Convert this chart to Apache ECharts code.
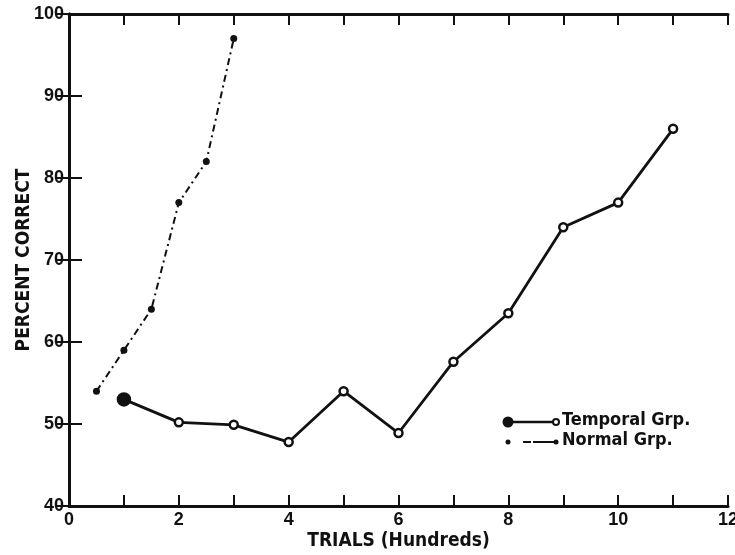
<!DOCTYPE html>
<html>
<head>
<meta charset="utf-8">
<script src="https://cdn.jsdelivr.net/npm/echarts@6/dist/echarts.min.js"></script>
<style>
  html, body { margin: 0; padding: 0; background: #fff; }
  #chart { width: 735px; height: 555px; }
</style>
</head>
<body>
<div id="chart"></div>
<script>
// Trials in hundreds, percent correct
const temporalTrials = [1, 2, 3, 4, 5, 6, 7, 8, 9, 10, 11];
const temporalPct = [53, 50.2, 49.9, 47.8, 54, 48.9, 57.6, 63.5, 74, 77, 86];

const normalTrials = [0.5, 1, 1.5, 2, 2.5, 3];
const normalPct = [54, 59, 64, 77, 82, 97];

const xTickLabels = [0, 2, 4, 6, 8, 10, 12];
const yTickLabels = [40, 50, 60, 70, 80, 90, 100];

const NUM_FONT = 'Liberation Sans';
const TITLE_FONT = 'DejaVu Sans Condensed';
const INK = '#111';

const chart = echarts.init(document.getElementById('chart'));

const temporalData = temporalTrials.map((t, i) => {
  const item = { value: [t, temporalPct[i]] };
  if (i === 0) {
    item.symbolSize = 12;
    item.itemStyle = { color: INK, borderColor: INK };
  }
  return item;
});
const normalData = normalTrials.map((t, i) => [t, normalPct[i]]);

const tickLabel = {
  fontFamily: NUM_FONT, fontWeight: 'bold', fontSize: 18, color: INK
};
const titleStyle = {
  fontFamily: TITLE_FONT, fontWeight: 'bold', fontSize: 19, color: INK
};

chart.setOption({
  animation: false,
  backgroundColor: '#fff',
  grid: {
    left: 69, right: 7, top: 14, bottom: 49,
    containLabel: false, outerBoundsMode: 'none'
  },
  xAxis: [
    {
      type: 'value', position: 'bottom', min: 0, max: 12, interval: 1,
      name: 'TRIALS (Hundreds)', nameLocation: 'middle', nameGap: 26,
      nameMoveOverlap: false,
      nameTextStyle: titleStyle,
      axisLine: { show: true, lineStyle: { color: INK, width: 3 } },
      axisTick: { show: true, inside: true, length: 11, lineStyle: { color: INK, width: 2 } },
      axisLabel: {
        ...tickLabel, margin: 5,
        formatter: v => (xTickLabels.indexOf(v) >= 0 ? String(v) : '')
      },
      splitLine: { show: false }
    },
    {
      type: 'value', position: 'top', min: 0, max: 12, interval: 1,
      axisLine: { show: true, lineStyle: { color: INK, width: 3 } },
      axisTick: { show: true, inside: true, length: 11, lineStyle: { color: INK, width: 2 } },
      axisLabel: { show: false },
      splitLine: { show: false }
    }
  ],
  yAxis: [
    {
      type: 'value', position: 'left', min: 40, max: 100, interval: 10,
      name: 'PERCENT CORRECT', nameLocation: 'middle', nameGap: 35, nameRotate: 90,
      nameMoveOverlap: false,
      nameTextStyle: titleStyle,
      axisLine: { show: true, lineStyle: { color: INK, width: 3 } },
      axisTick: { show: true, inside: true, length: 13, lineStyle: { color: INK, width: 2 } },
      axisLabel: {
        ...tickLabel, margin: 5,
        formatter: v => (yTickLabels.indexOf(v) >= 0 ? String(v) : '')
      },
      splitLine: { show: false }
    },
    {
      type: 'value', position: 'right', min: 40, max: 100, interval: 10,
      axisLine: { show: true, lineStyle: { color: INK, width: 3 } },
      axisTick: { show: true, inside: true, length: 13, lineStyle: { color: INK, width: 2 } },
      axisLabel: { show: false },
      splitLine: { show: false }
    }
  ],
  series: [
    {
      name: 'Temporal Grp.', type: 'line', xAxisIndex: 0, yAxisIndex: 0,
      data: temporalData,
      symbol: 'circle', symbolSize: 8,
      lineStyle: { color: INK, width: 2.8 },
      itemStyle: { color: '#fff', borderColor: INK, borderWidth: 2.5 },
      z: 3
    },
    {
      name: 'Normal Grp.', type: 'line', xAxisIndex: 0, yAxisIndex: 0,
      data: normalData,
      symbol: 'circle', symbolSize: 7,
      lineStyle: { color: INK, width: 2, type: [7, 4, 2, 4] },
      itemStyle: { color: INK, borderColor: INK, borderWidth: 0 },
      z: 3
    }
  ],
  graphic: [
    // legend: temporal group sample
    { type: 'line', shape: { x1: 508, y1: 422, x2: 555, y2: 422 }, style: { stroke: INK, lineWidth: 2.5 } },
    { type: 'circle', shape: { cx: 508, cy: 422, r: 5.5 }, style: { fill: INK } },
    { type: 'circle', shape: { cx: 556, cy: 422, r: 3 }, style: { fill: '#fff', stroke: INK, lineWidth: 2 } },
    { type: 'text', left: 562, top: 411, style: { text: 'Temporal Grp.', fontFamily: TITLE_FONT, fontWeight: 'bold', fontSize: 18, fill: INK } },
    // legend: normal group sample
    { type: 'circle', shape: { cx: 508, cy: 442, r: 2.5 }, style: { fill: INK } },
    { type: 'line', shape: { x1: 523, y1: 442, x2: 555, y2: 442 }, style: { stroke: INK, lineWidth: 2, lineDash: [8, 2, 14, 0] } },
    { type: 'circle', shape: { cx: 556, cy: 442, r: 2.5 }, style: { fill: INK } },
    { type: 'text', left: 562, top: 431, style: { text: 'Normal Grp.', fontFamily: TITLE_FONT, fontWeight: 'bold', fontSize: 18, fill: INK } }
  ]
});
</script>
</body>
</html>
